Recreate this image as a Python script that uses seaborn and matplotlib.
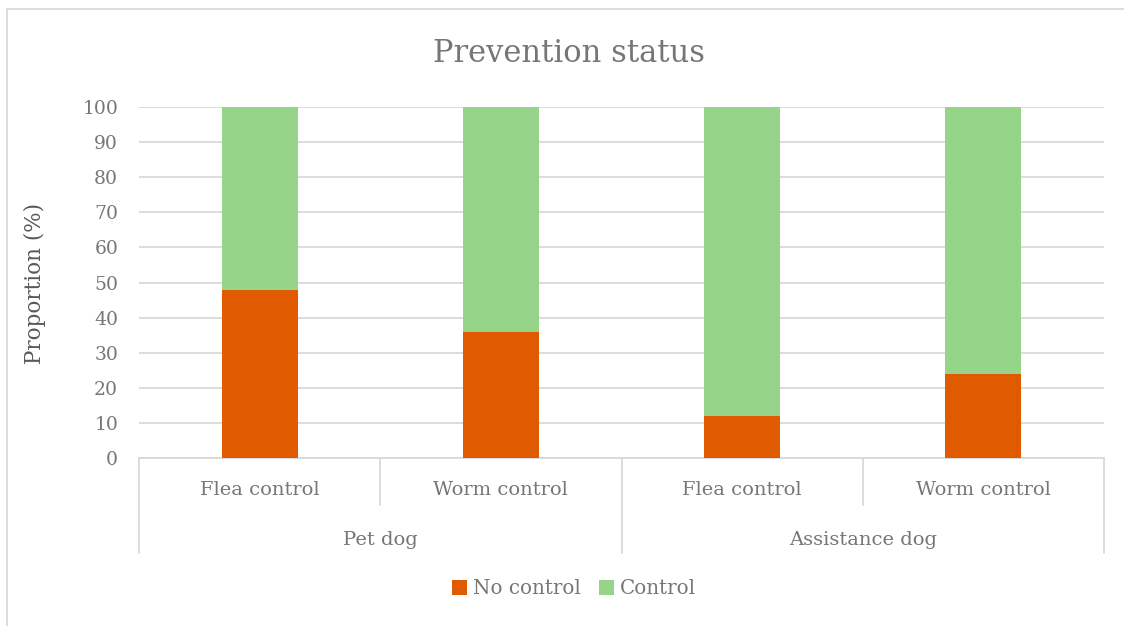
import matplotlib
matplotlib.use("Agg")
import matplotlib.pyplot as plt
import matplotlib.transforms as mtransforms
from matplotlib.patches import Patch
from matplotlib.lines import Line2D
import seaborn as sns
import pandas as pd

# ---- data ----
groups = ["Pet dog", "Pet dog", "Assistance dog", "Assistance dog"]
subcats = ["Flea control", "Worm control", "Flea control", "Worm control"]
no_control = [48, 36, 12, 24]
control = [52, 64, 88, 76]
group_names = ["Pet dog", "Assistance dog"]
series_names = ["No control", "Control"]
title = "Prevention status"
ylabel = "Proportion (%)"
yticks = [0, 10, 20, 30, 40, 50, 60, 70, 80, 90, 100]

sns.set_style("white")
plt.rcParams['font.family'] = ['DejaVu Serif', 'DejaVu Sans']

ORANGE = "#E05A00"
GREEN = "#96D48A"
GRID = "#D9D9D9"
TXT = "#767676"

keys = [f"{g}|{s}" for g, s in zip(groups, subcats)]
df = pd.DataFrame({
    "key": keys,
    "no": no_control,
    "total": [a + b for a, b in zip(no_control, control)],
})

W, H = 1124, 626
fig = plt.figure(figsize=(W/100, H/100), dpi=100)
ax = fig.add_axes([139/W, 1-458/H, (1104-139)/W, (458-107)/H])

sns.barplot(data=df, x="key", y="total", order=keys, color=GREEN,
            width=0.315, ax=ax, saturation=1, errorbar=None, zorder=3)
sns.barplot(data=df, x="key", y="no", order=keys, color=ORANGE,
            width=0.315, ax=ax, saturation=1, errorbar=None, zorder=4)
for p in ax.patches:
    p.set_linewidth(0)

ax.set_xlim(-0.5, 3.5)
ax.set_ylim(0, 100)
ax.set_yticks(yticks)
ax.set_yticklabels([str(v) for v in yticks], fontsize=13.5, color=TXT)
ax.tick_params(axis="y", length=0, pad=15)
ax.set_xticks([])
ax.set_xlabel("")
ax.set_ylabel("")
ax.yaxis.grid(True, color=GRID, linewidth=1.3, zorder=0)
ax.set_axisbelow(True)
for s in ["top", "right", "left"]:
    ax.spines[s].set_visible(False)
ax.spines["bottom"].set_color(GRID)
ax.spines["bottom"].set_linewidth(1.3)

fig.text(569/W, 1-53/H, title, fontsize=22, color=TXT, ha="center", va="center")
fig.text(35/W, 1-283/H, ylabel, fontsize=15.5, color="#595959", ha="center",
         va="center", rotation=90)

# hierarchical category axis
trans = mtransforms.blended_transform_factory(ax.transData, fig.transFigure)
y0 = 1 - 458/H
y_short = 1 - 505/H
y_long = 1 - 553/H
for xb, yb in [(-0.5, y_long), (0.5, y_short), (1.5, y_long), (2.5, y_short), (3.5, y_long)]:
    ax.add_line(Line2D([xb, xb], [y0, yb], transform=trans, color=GRID,
                       linewidth=1.3, clip_on=False))
for i, s in enumerate(subcats):
    ax.text(i, 1 - 490/H, s, transform=trans, ha="center", va="center",
            fontsize=14, color=TXT)
for gi, g in enumerate(group_names):
    ax.text(0.5 + 2*gi, 1 - 540/H, g, transform=trans, ha="center", va="center",
            fontsize=14, color=TXT)

handles = [Patch(facecolor=ORANGE, edgecolor="none"), Patch(facecolor=GREEN, edgecolor="none")]
leg = fig.legend(handles, series_names, loc="center", bbox_to_anchor=(574/W, 1-589/H),
                 ncol=2, frameon=False, fontsize=14.3, handlelength=0.75, handleheight=0.75,
                 handletextpad=0.3, columnspacing=0.9)
for t in leg.get_texts():
    t.set_color(TXT)

# outer chart border (top and left edges visible)
fig.add_artist(Line2D([7/W, 1.0], [1-9/H, 1-9/H], transform=fig.transFigure,
                      color=GRID, linewidth=1.3))
fig.add_artist(Line2D([7/W, 7/W], [0.0, 1-9/H], transform=fig.transFigure,
                      color=GRID, linewidth=1.3))

fig.savefig("out.png", dpi=100, facecolor="white")
